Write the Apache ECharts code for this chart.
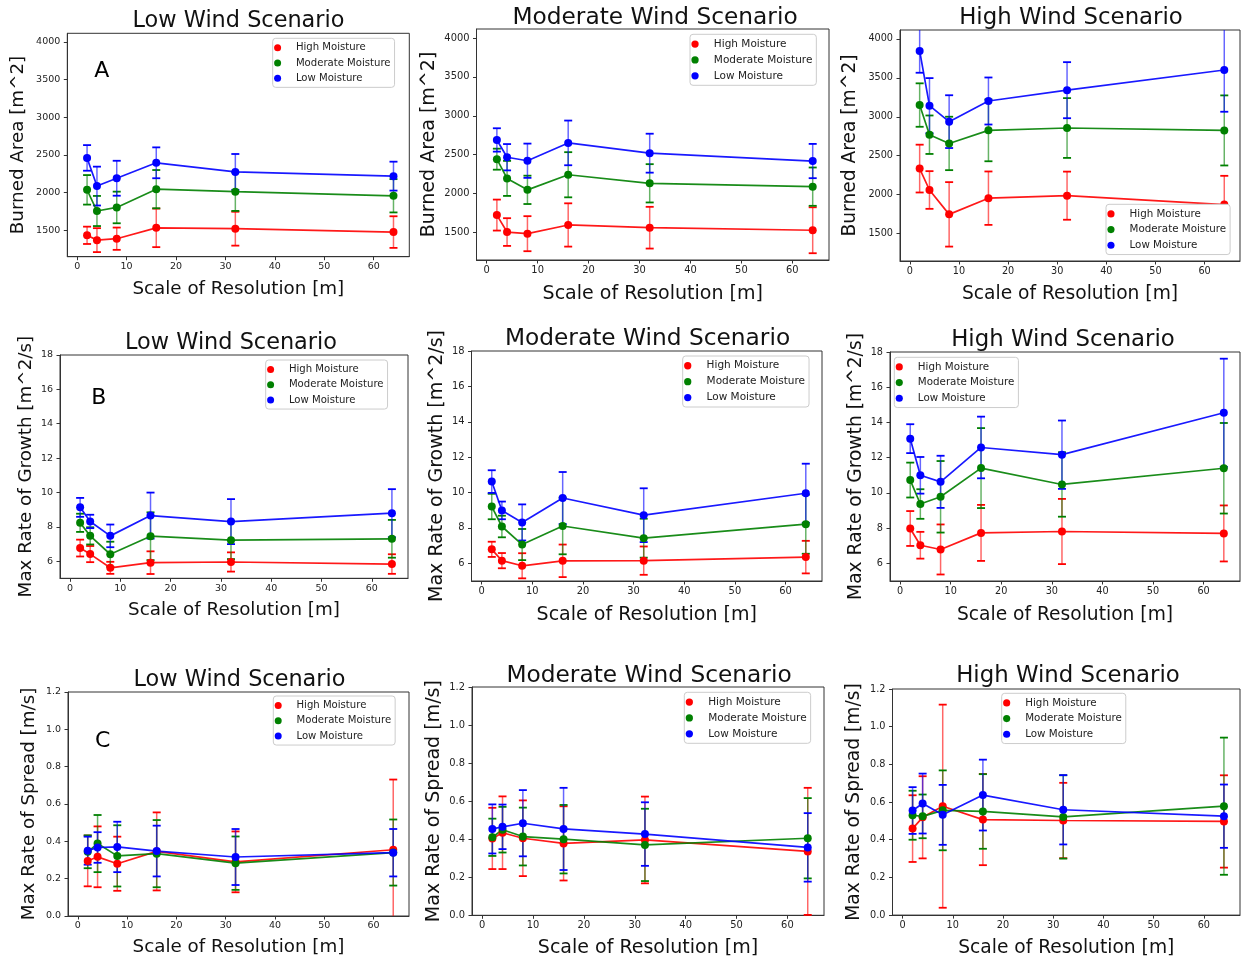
<!DOCTYPE html>
<html><head><meta charset="utf-8">
<script src="https://cdn.jsdelivr.net/npm/echarts@6/dist/echarts.min.js"></script>
<style>html,body{margin:0;padding:0;background:#fff;}#c{width:1241px;height:959px;}</style>
</head><body><div id="c"></div>
<script>
// ---------------- data ----------------
const scales = [2, 4, 8, 16, 32, 64];
const moistureNames = ['High Moisture', 'Moderate Moisture', 'Low Moisture'];
const windTitles = ['Low Wind Scenario', 'Moderate Wind Scenario', 'High Wind Scenario'];
const rowYLabels = ['Burned Area [m^2]', 'Max Rate of Growth [m^2/s]', 'Max Rate of Spread [m/s]'];
const xLabel = 'Scale of Resolution [m]';
const panelLetters = ['A', 'B', 'C'];
const xTicks = [0, 10, 20, 30, 40, 50, 60];
const areaTicks = [1500, 2000, 2500, 3000, 3500, 4000];
const growthTicks = [6, 8, 10, 12, 14, 16, 18];
const spreadTicks = [0, 0.2, 0.4, 0.6, 0.8, 1.0, 1.2];

// rows: High, Moderate, Low moisture
const areaLowWind = [[1432, 1368, 1387, 1531, 1520, 1475], [2036, 1755, 1802, 2045, 2012, 1957], [2460, 2086, 2190, 2395, 2274, 2218]];
const areaLowWindErr = [[115, 159, 148, 256, 225, 210], [196, 200, 210, 254, 256, 221], [170, 258, 232, 205, 238, 192]];
const areaModWind = [[1725, 1507, 1486, 1598, 1563, 1530], [2443, 2196, 2049, 2243, 2133, 2090], [2690, 2468, 2423, 2652, 2520, 2419]];
const areaModWindErr = [[199, 178, 225, 278, 268, 295], [135, 225, 182, 290, 246, 246], [150, 169, 220, 287, 250, 220]];
const areaHighWind = [[2335, 2060, 1747, 1955, 1987, 1873], [3151, 2770, 2658, 2826, 2856, 2825], [3846, 3143, 2938, 3203, 3342, 3601]];
const areaHighWindErr = [[307, 242, 414, 343, 309, 369], [279, 247, 343, 397, 384, 450], [280, 354, 339, 302, 360, 536]];

const growthLowWind = [[6.76, 6.41, 5.61, 5.91, 5.95, 5.83], [8.23, 7.47, 6.40, 7.45, 7.22, 7.30], [9.13, 8.31, 7.47, 8.65, 8.30, 8.79]];
const growthLowWindErr = [[0.49, 0.47, 0.35, 0.66, 0.56, 0.57], [0.53, 0.50, 0.73, 1.39, 1.10, 1.10], [0.55, 0.39, 0.66, 1.34, 1.31, 1.40]];
const growthModWind = [[6.79, 6.15, 5.86, 6.14, 6.15, 6.35], [9.21, 8.08, 7.06, 8.11, 7.42, 8.21], [10.62, 8.99, 8.31, 9.69, 8.72, 9.96]];
const growthModWindErr = [[0.43, 0.43, 0.71, 0.92, 0.80, 0.92], [0.72, 0.61, 0.88, 1.60, 1.10, 1.67], [0.64, 0.50, 1.02, 1.47, 1.52, 1.67]];
const growthHighWind = [[7.98, 7.03, 6.79, 7.73, 7.81, 7.70], [10.73, 9.37, 9.78, 11.41, 10.48, 11.40], [13.08, 11.00, 10.63, 12.58, 12.17, 14.55]];
const growthHighWindErr = [[0.99, 0.76, 1.42, 1.59, 1.85, 1.59], [0.99, 0.84, 2.03, 2.27, 1.83, 2.57], [0.82, 1.04, 1.48, 1.75, 1.94, 3.07]];

const spreadLowWind = [[0.295, 0.317, 0.280, 0.346, 0.290, 0.355], [0.344, 0.388, 0.322, 0.334, 0.283, 0.340], [0.350, 0.367, 0.370, 0.348, 0.316, 0.339]];
const spreadLowWindErr = [[0.136, 0.163, 0.145, 0.209, 0.163, 0.376], [0.088, 0.153, 0.164, 0.180, 0.143, 0.177], [0.075, 0.082, 0.135, 0.136, 0.150, 0.127]];
const spreadModWind = [[0.404, 0.434, 0.405, 0.378, 0.396, 0.336], [0.410, 0.450, 0.414, 0.400, 0.370, 0.405], [0.454, 0.465, 0.484, 0.454, 0.427, 0.357]];
const spreadModWindErr = [[0.161, 0.191, 0.199, 0.195, 0.228, 0.334], [0.098, 0.120, 0.152, 0.180, 0.190, 0.211], [0.129, 0.117, 0.174, 0.216, 0.167, 0.180]];
const spreadHighWind = [[0.459, 0.519, 0.578, 0.507, 0.502, 0.497], [0.530, 0.524, 0.556, 0.550, 0.521, 0.578], [0.555, 0.592, 0.532, 0.637, 0.559, 0.525]];
const spreadHighWindErr = [[0.177, 0.218, 0.539, 0.242, 0.200, 0.245], [0.130, 0.116, 0.212, 0.198, 0.221, 0.364], [0.124, 0.159, 0.159, 0.188, 0.184, 0.168]];

// ---------------- layout / style ----------------
const colors = ['#ff0000', '#008000', '#0000ff'];
const FONT = 'DejaVu Sans';
const rows = [
  { means: [areaLowWind, areaModWind, areaHighWind], errs: [areaLowWindErr, areaModWindErr, areaHighWindErr], ticks: areaTicks, min: 1148, max: 4115, fmt: v => String(v) },
  { means: [growthLowWind, growthModWind, growthHighWind], errs: [growthLowWindErr, growthModWindErr, growthHighWindErr], ticks: growthTicks, min: 5, max: 18, fmt: v => String(v) },
  { means: [spreadLowWind, spreadModWind, spreadHighWind], errs: [spreadLowWindErr, spreadModWindErr, spreadHighWindErr], ticks: spreadTicks, min: 0, max: 1.2, fmt: v => v.toFixed(1) }
];
const colScale = [1, 1.04, 1.02];
const legSpacing = [15.25, 15.9, 15.65];
const boxes = [
  { l: 67.3, t: 33.3, r: 409.3, b: 256.7, tc: [238.5, 21.5], leg: [272.7, 38.3], xg: 23.3, yg: 40 },
  { l: 476.5, t: 29, r: 829, b: 260, tc: [655, 17.5], leg: [690, 34.3], xg: 24.5, yg: 38 },
  { l: 900, t: 30, r: 1240, b: 261, tc: [1071, 18.5], leg: [1106, 204.3], xg: 23.9, yg: 40 },
  { l: 60, t: 355, r: 408, b: 578.3, tc: [231, 343.5], leg: [265.7, 360], xg: 22.7, yg: 25.2 },
  { l: 471.5, t: 351, r: 822, b: 581, tc: [647.5, 339], leg: [682.7, 356], xg: 24.7, yg: 25 },
  { l: 890, t: 352, r: 1240, b: 581, tc: [1063, 340.5], leg: [894.3, 357.3], xg: 24.9, yg: 24.7 },
  { l: 68, t: 692, r: 409, b: 916, tc: [239.5, 680.5], leg: [273.3, 696], xg: 22, yg: 29.7 },
  { l: 472, t: 687, r: 824, b: 917, tc: [649, 675.5], leg: [684.3, 692.3], xg: 23.7, yg: 28 },
  { l: 892.5, t: 689, r: 1240, b: 917, tc: [1068, 676.5], leg: [1001.7, 693.3], xg: 23.9, yg: 28.7 }
];
const letterPos = [[101.7, 71], [98.8, 398.7], [102.8, 741.7]];

function makeErrRender(color, ymin, ymax) {
  return function (params, api) {
    const x = api.value(0), y = api.value(1), e = api.value(2);
    const lo = Math.max(y - e, ymin), hi = Math.min(y + e, ymax);
    const pLo = api.coord([x, lo]), pHi = api.coord([x, hi]);
    const cap = 4;
    const children = [{ type: 'line', shape: { x1: pLo[0], y1: pLo[1], x2: pHi[0], y2: pHi[1] }, style: { stroke: color, lineWidth: 1.5, opacity: 0.6 } }];
    if (y - e >= ymin) children.push({ type: 'line', shape: { x1: pLo[0] - cap, y1: pLo[1], x2: pLo[0] + cap, y2: pLo[1] }, style: { stroke: color, lineWidth: 1.8 } });
    if (y + e <= ymax) children.push({ type: 'line', shape: { x1: pHi[0] - cap, y1: pHi[1], x2: pHi[0] + cap, y2: pHi[1] }, style: { stroke: color, lineWidth: 1.8 } });
    return { type: 'group', children };
  };
}

const option = { animation: false, backgroundColor: '#fff', textStyle: { fontFamily: FONT }, grid: [], xAxis: [], yAxis: [], series: [], title: [], legend: [] };

for (let r = 0; r < 3; r++) {
  for (let c = 0; c < 3; c++) {
    const p = r * 3 + c, bx = boxes[p], s = colScale[c], row = rows[r];
    option.grid.push({ left: bx.l, top: bx.t, width: bx.r - bx.l, height: bx.b - bx.t, show: true, borderColor: '#333', borderWidth: 1, backgroundColor: 'transparent' });
    option.xAxis.push({
      gridIndex: p, type: 'value', min: -2, max: 67.2,
      axisLine: { show: true, onZero: false, lineStyle: { color: '#333', width: 1 } },
      axisTick: { show: true, length: 3.5, customValues: xTicks, lineStyle: { color: '#333' } },
      axisLabel: { customValues: xTicks, fontSize: 9.5 * s, color: '#222', margin: 5, fontFamily: FONT },
      splitLine: { show: false },
      name: xLabel, nameLocation: 'middle', nameGap: bx.xg,
      nameTextStyle: { fontSize: 18.3 * s, color: '#111', fontFamily: FONT }
    });
    option.yAxis.push({
      gridIndex: p, type: 'value', min: row.min, max: row.max,
      axisLine: { show: true, onZero: false, lineStyle: { color: '#333', width: 1 } },
      axisTick: { show: true, length: 3.5, customValues: row.ticks, lineStyle: { color: '#333' } },
      axisLabel: { customValues: row.ticks, fontSize: 9.5 * s, color: '#222', margin: 7, fontFamily: FONT, formatter: row.fmt },
      splitLine: { show: false },
      name: rowYLabels[r], nameLocation: 'middle', nameGap: bx.yg,
      nameTextStyle: { fontSize: 18.3 * s, color: '#111', fontFamily: FONT }
    });
    option.title.push({
      text: windTitles[c], left: bx.tc[0], top: bx.tc[1], textAlign: 'center', textVerticalAlign: 'middle', padding: 0,
      textStyle: { fontSize: 22.4 * s, fontWeight: 'normal', color: '#111', fontFamily: FONT }
    });
    option.legend.push({
      left: bx.leg[0], top: bx.leg[1], orient: 'vertical', icon: 'circle', selectedMode: false,
      itemWidth: 26.6 * s, itemHeight: 7 * s, itemGap: 0,
      padding: [1.8, 4, 1.5, 1.4],
      borderColor: '#cccccc', borderWidth: 1, borderRadius: 3, backgroundColor: '#ffffff',
      textStyle: { fontSize: 10.1 * s, color: '#222', fontFamily: FONT, lineHeight: legSpacing[c] },
      data: moistureNames.slice()
    });
    for (let k = 0; k < 3; k++) {
      const mean = row.means[c][k], err = row.errs[c][k];
      option.series.push({
        type: 'custom', name: moistureNames[k] + ' error', xAxisIndex: p, yAxisIndex: p, silent: true,
        encode: { x: 0, y: 1 }, dimensions: ['x', 'y', 'err'],
        data: scales.map((x, i) => [x, mean[i], err[i]]),
        renderItem: makeErrRender(colors[k], row.min, row.max), z: 2
      });
      option.series.push({
        type: 'line', name: moistureNames[k], xAxisIndex: p, yAxisIndex: p, silent: true,
        data: scales.map((x, i) => [x, mean[i]]),
        symbol: 'circle', symbolSize: 8, showSymbol: true,
        itemStyle: { color: colors[k] }, lineStyle: { color: colors[k], width: 1.7, opacity: 0.9 }, z: 2
      });
    }
  }
}
for (let r = 0; r < 3; r++) {
  option.title.push({
    text: panelLetters[r], left: letterPos[r][0], top: letterPos[r][1], textAlign: 'center', textVerticalAlign: 'middle', padding: 0,
    textStyle: { fontSize: 22, fontWeight: 'normal', color: '#000', fontFamily: FONT }
  });
}

const chart = echarts.init(document.getElementById('c'), null, { renderer: 'canvas' });
chart.setOption(option);
</script>
</body></html>
